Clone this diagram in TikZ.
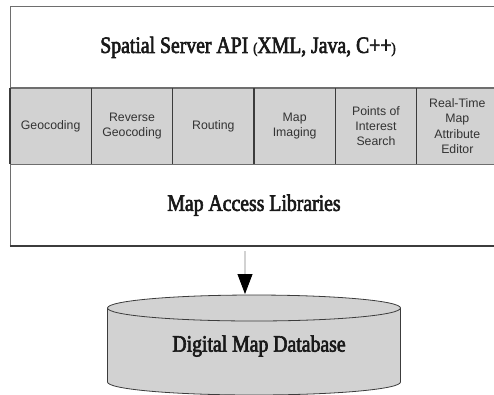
\documentclass[tikz,border=0pt]{standalone}
\usepackage{fontspec}
\setmainfont{Liberation Serif}
\newfontfamily\labelfont{Liberation Sans}
\newfontfamily\headfont[FakeStretch=0.84, FakeBold=2.6]{Liberation Serif}
\usepackage{tikz}
\usetikzlibrary{shapes,arrows,arrows.meta,positioning,fit,backgrounds}
\definecolor{band}{RGB}{210, 210, 210}
\definecolor{sep}{RGB}{60, 60, 60}
\definecolor{frame}{RGB}{110, 110, 110}
\tikzstyle{module} = [rectangle, draw=frame, line width=0.8pt, fill=band, text=black!80, align=center, font=\labelfont\fontsize{12.3}{15.2}\selectfont, minimum width=81.33pt, minimum height=76pt, inner sep=0pt, outer sep=0pt]
\tikzstyle{divider} = [draw=sep, line width=1.6pt]
\tikzstyle{layer} = [rectangle, draw=frame, line width=0.8pt, fill=white, minimum width=488pt, inner sep=0pt, outer sep=0pt, text=black!90, font=\headfont\fontsize{23.5}{26}\selectfont]
\tikzstyle{dbtext} = [font=\headfont\fontsize{23.5}{26}\selectfont, text=black!90, inner sep=0pt]
\tikzstyle{cyl} = [draw=sep, line width=0.8pt, fill=band]
\tikzstyle{flow} = [draw=gray, line width=0.8pt, -{Triangle[length=20pt, width=15pt, color=black]}]
\newcommand{\paren}[1]{{\fontsize{15}{15}\selectfont #1}}

\begin{document}
\begin{tikzpicture}
\useasboundingbox (0,0) rectangle (494pt,-394pt);

% services band =============================
\node[module] (geo) at (50.67pt,-126pt) {Geocoding};
\node[module, right=0pt of geo] (rgeo) {Reverse\\Geocoding};
\node[module, right=0pt of rgeo] (route) {Routing};
\node[module, right=0pt of route] (img) {Map\\Imaging};
\node[module, right=0pt of img] (poi) {Points of\\Interest\\Search};
\node[module, right=0pt of poi] (rte) {Real-Time\\Map\\Attribute\\Editor};
\node[fit=(geo)(rte), inner sep=0pt] (band) {};

% separators
\draw[divider] (geo.north west) -- (geo.south west);
\foreach \n in {geo,rgeo,route,img,poi}
  \draw[divider] (\n.north east) -- (\n.south east);

% API and libraries =============================
\node[layer, above=0pt of band, minimum height=81pt] (api) {Spatial Server API \paren{(}XML, Java, C++\paren{)}\hspace*{12pt}};
\node[layer, below=0pt of band, minimum height=82pt] (mal) {Map Access Libraries};
\draw[divider] (mal.south west) -- (mal.south east);

% database =============================
\node[dbtext] (db) at (259pt,-346pt) {Digital Map Database};
\begin{scope}[on background layer]
\path[cyl] ([shift={(-151.5pt,38pt)}]db.center) -- ++(0,-74pt)
  arc[start angle=180, end angle=360, x radius=146.5pt, y radius=13pt]
  -- ++(0,74pt)
  arc[start angle=0, end angle=180, x radius=146.5pt, y radius=13pt] -- cycle;
\draw[cyl, fill=none] ([shift={(-151.5pt,38pt)}]db.center)
  arc[start angle=180, end angle=360, x radius=146.5pt, y radius=13pt];
\end{scope}

% edges
\path[flow] ([xshift=-9pt, yshift=-5pt]mal.south) -- ([xshift=-14pt, yshift=52pt]db.center);

\end{tikzpicture}
\end{document}
